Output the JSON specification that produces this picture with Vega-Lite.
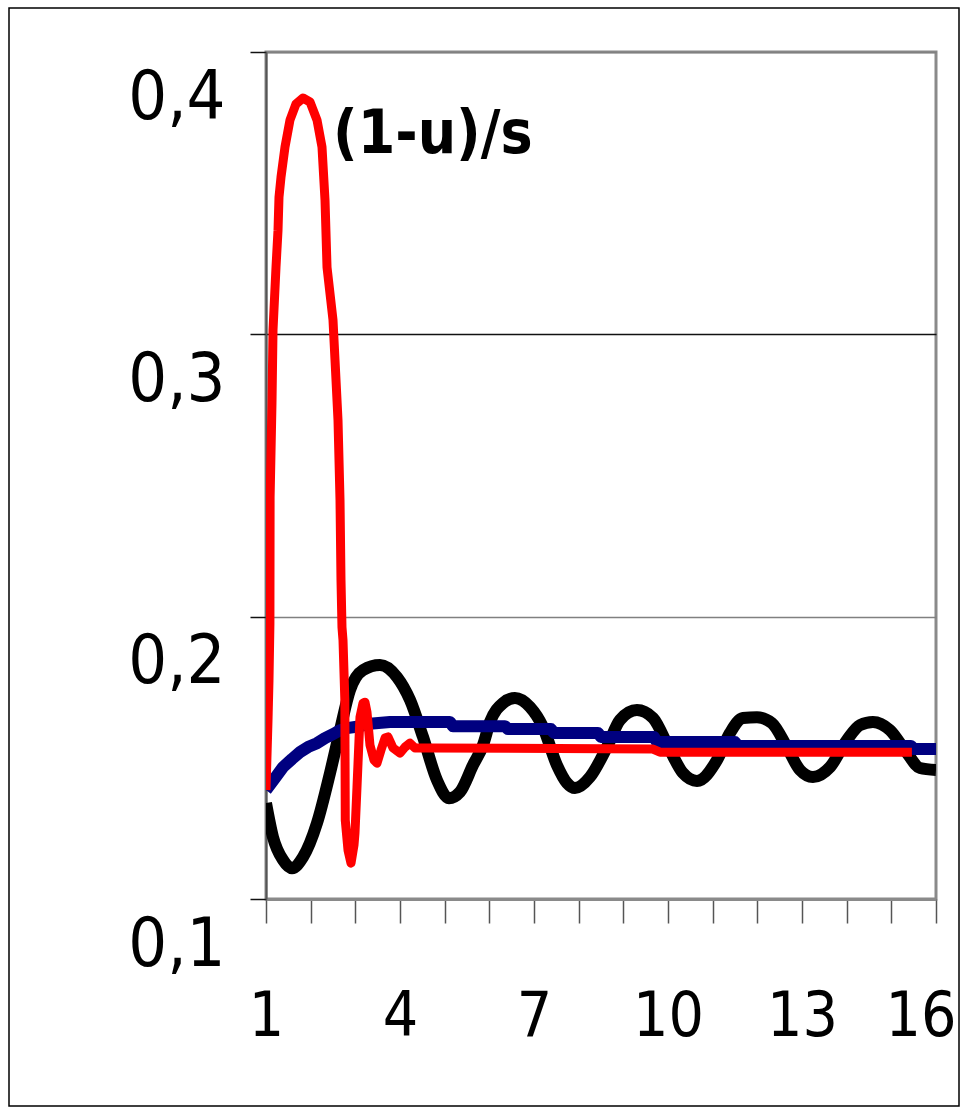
{
  "$schema": "https://vega.github.io/schema/vega-lite/v6.json",
  "width": 670,
  "height": 847,
  "autosize": {"type": "none"},
  "padding": {"left": 266, "top": 52, "right": 24, "bottom": 216},
  "background": "white",
  "config": {
    "view": {"stroke": "#8a8a8a", "strokeWidth": 3},
    "font": "DejaVu Sans Condensed, Liberation Sans, sans-serif"
  },
  "datasets": {
    "curves": [
      {"series": "black", "x": 1.000, "y": 0.1340},
      {"series": "black", "x": 1.157, "y": 0.1219},
      {"series": "black", "x": 1.381, "y": 0.1138},
      {"series": "black", "x": 1.582, "y": 0.1109},
      {"series": "black", "x": 1.828, "y": 0.1148},
      {"series": "black", "x": 2.142, "y": 0.1269},
      {"series": "black", "x": 2.433, "y": 0.1446},
      {"series": "black", "x": 2.657, "y": 0.1598},
      {"series": "black", "x": 2.880, "y": 0.1740},
      {"series": "black", "x": 3.171, "y": 0.1811},
      {"series": "black", "x": 3.552, "y": 0.1829},
      {"series": "black", "x": 3.933, "y": 0.1786},
      {"series": "black", "x": 4.224, "y": 0.1705},
      {"series": "black", "x": 4.515, "y": 0.1574},
      {"series": "black", "x": 4.828, "y": 0.1421},
      {"series": "black", "x": 5.097, "y": 0.1357},
      {"series": "black", "x": 5.343, "y": 0.1379},
      {"series": "black", "x": 5.634, "y": 0.1474},
      {"series": "black", "x": 5.858, "y": 0.1545},
      {"series": "black", "x": 6.015, "y": 0.1627},
      {"series": "black", "x": 6.306, "y": 0.1694},
      {"series": "black", "x": 6.574, "y": 0.1712},
      {"series": "black", "x": 6.910, "y": 0.1680},
      {"series": "black", "x": 7.201, "y": 0.1609},
      {"series": "black", "x": 7.514, "y": 0.1474},
      {"series": "black", "x": 7.738, "y": 0.1411},
      {"series": "black", "x": 7.917, "y": 0.1393},
      {"series": "black", "x": 8.253, "y": 0.1432},
      {"series": "black", "x": 8.634, "y": 0.1538},
      {"series": "black", "x": 8.925, "y": 0.1634},
      {"series": "black", "x": 9.305, "y": 0.1669},
      {"series": "black", "x": 9.664, "y": 0.1641},
      {"series": "black", "x": 10.044, "y": 0.1527},
      {"series": "black", "x": 10.335, "y": 0.1446},
      {"series": "black", "x": 10.649, "y": 0.1418},
      {"series": "black", "x": 11.096, "y": 0.1492},
      {"series": "black", "x": 11.387, "y": 0.1588},
      {"series": "black", "x": 11.678, "y": 0.1641},
      {"series": "black", "x": 11.992, "y": 0.1644},
      {"series": "black", "x": 12.327, "y": 0.1623},
      {"series": "black", "x": 12.663, "y": 0.1538},
      {"series": "black", "x": 12.954, "y": 0.1457},
      {"series": "black", "x": 13.245, "y": 0.1432},
      {"series": "black", "x": 13.626, "y": 0.1467},
      {"series": "black", "x": 14.006, "y": 0.1563},
      {"series": "black", "x": 14.298, "y": 0.1616},
      {"series": "black", "x": 14.589, "y": 0.1627},
      {"series": "black", "x": 14.969, "y": 0.1598},
      {"series": "black", "x": 15.350, "y": 0.1517},
      {"series": "black", "x": 15.641, "y": 0.1464},
      {"series": "black", "x": 16.000, "y": 0.1457},

      {"series": "blue", "x": 1.000, "y": 0.1386},
      {"series": "blue", "x": 1.201, "y": 0.1428},
      {"series": "blue", "x": 1.381, "y": 0.1467},
      {"series": "blue", "x": 1.582, "y": 0.1496},
      {"series": "blue", "x": 1.761, "y": 0.1520},
      {"series": "blue", "x": 1.940, "y": 0.1538},
      {"series": "blue", "x": 2.142, "y": 0.1552},
      {"series": "blue", "x": 2.321, "y": 0.1570},
      {"series": "blue", "x": 2.500, "y": 0.1584},
      {"series": "blue", "x": 2.657, "y": 0.1598},
      {"series": "blue", "x": 2.813, "y": 0.1605},
      {"series": "blue", "x": 3.104, "y": 0.1612},
      {"series": "blue", "x": 3.261, "y": 0.1620},
      {"series": "blue", "x": 3.776, "y": 0.1627},
      {"series": "blue", "x": 5.119, "y": 0.1627},
      {"series": "blue", "x": 5.186, "y": 0.1612},
      {"series": "blue", "x": 6.350, "y": 0.1612},
      {"series": "blue", "x": 6.417, "y": 0.1602},
      {"series": "blue", "x": 7.380, "y": 0.1602},
      {"series": "blue", "x": 7.447, "y": 0.1588},
      {"series": "blue", "x": 8.432, "y": 0.1588},
      {"series": "blue", "x": 8.499, "y": 0.1574},
      {"series": "blue", "x": 9.686, "y": 0.1574},
      {"series": "blue", "x": 9.753, "y": 0.1556},
      {"series": "blue", "x": 11.499, "y": 0.1556},
      {"series": "blue", "x": 11.566, "y": 0.1542},
      {"series": "blue", "x": 15.439, "y": 0.1542},
      {"series": "blue", "x": 15.506, "y": 0.1531},
      {"series": "blue", "x": 16.000, "y": 0.1531},

      {"series": "red", "x": 1.000, "y": 0.1386},
      {"series": "red", "x": 1.045, "y": 0.1634},
      {"series": "red", "x": 1.067, "y": 0.1775},
      {"series": "red", "x": 1.088, "y": 0.1977},
      {"series": "red", "x": 1.092, "y": 0.2424},
      {"series": "red", "x": 1.134, "y": 0.2757},
      {"series": "red", "x": 1.157, "y": 0.3015},
      {"series": "red", "x": 1.224, "y": 0.3238},
      {"series": "red", "x": 1.269, "y": 0.3369},
      {"series": "red", "x": 1.291, "y": 0.3486},
      {"series": "red", "x": 1.336, "y": 0.3557},
      {"series": "red", "x": 1.425, "y": 0.3663},
      {"series": "red", "x": 1.537, "y": 0.3759},
      {"series": "red", "x": 1.672, "y": 0.3816},
      {"series": "red", "x": 1.829, "y": 0.3837},
      {"series": "red", "x": 1.985, "y": 0.3823},
      {"series": "red", "x": 2.142, "y": 0.3759},
      {"series": "red", "x": 2.254, "y": 0.3663},
      {"series": "red", "x": 2.321, "y": 0.3476},
      {"series": "red", "x": 2.366, "y": 0.3238},
      {"series": "red", "x": 2.500, "y": 0.3051},
      {"series": "red", "x": 2.545, "y": 0.2909},
      {"series": "red", "x": 2.612, "y": 0.2696},
      {"series": "red", "x": 2.657, "y": 0.2413},
      {"series": "red", "x": 2.679, "y": 0.2130},
      {"series": "red", "x": 2.701, "y": 0.1963},
      {"series": "red", "x": 2.724, "y": 0.1917},
      {"series": "red", "x": 2.765, "y": 0.1705},
      {"series": "red", "x": 2.775, "y": 0.1279},
      {"series": "red", "x": 2.836, "y": 0.1173},
      {"series": "red", "x": 2.903, "y": 0.1127},
      {"series": "red", "x": 2.970, "y": 0.1191},
      {"series": "red", "x": 2.992, "y": 0.1233},
      {"series": "red", "x": 3.037, "y": 0.1396},
      {"series": "red", "x": 3.104, "y": 0.1644},
      {"series": "red", "x": 3.171, "y": 0.1694},
      {"series": "red", "x": 3.216, "y": 0.1697},
      {"series": "red", "x": 3.261, "y": 0.1662},
      {"series": "red", "x": 3.328, "y": 0.1545},
      {"series": "red", "x": 3.418, "y": 0.1492},
      {"series": "red", "x": 3.485, "y": 0.1481},
      {"series": "red", "x": 3.574, "y": 0.1527},
      {"series": "red", "x": 3.664, "y": 0.1570},
      {"series": "red", "x": 3.731, "y": 0.1574},
      {"series": "red", "x": 3.843, "y": 0.1535},
      {"series": "red", "x": 4.000, "y": 0.1517},
      {"series": "red", "x": 4.112, "y": 0.1538},
      {"series": "red", "x": 4.224, "y": 0.1552},
      {"series": "red", "x": 4.336, "y": 0.1535},
      {"series": "red", "x": 4.671, "y": 0.1535},
      {"series": "red", "x": 9.664, "y": 0.1531},
      {"series": "red", "x": 9.820, "y": 0.1520},
      {"series": "red", "x": 15.460, "y": 0.1520}
    ],
    "annotation": [
      {"x": 2.5, "y": 0.3642, "label": "(1-u)/s"}
    ],
    "frame": [
      {"name": "frame"}
    ]
  },
  "encoding": {
    "x": {
      "field": "x",
      "type": "quantitative",
      "scale": {"domain": [1, 16], "nice": false, "zero": false},
      "axis": {
        "title": null,
        "values": [1, 2, 3, 4, 5, 6, 7, 8, 9, 10, 11, 12, 13, 14, 15, 16],
        "labelExpr": "datum.value % 3 == 1 ? format(datum.value, 'd') : ''",
        "grid": false,
        "domainColor": "#8a8a8a",
        "domainWidth": 3,
        "tickColor": "#555555",
        "tickWidth": 1.5,
        "tickSize": 24,
        "labelFont": "DejaVu Sans Condensed, Liberation Sans, sans-serif",
        "labelFontSize": 62,
        "labelColor": "black",
        "labelAlign": {"condition": {"test": "datum.value == 16", "value": "right"}, "value": "center"},
        "labelOffset": {"condition": {"test": "datum.value == 16", "value": 20}, "value": 0},
        "labelBaseline": "alphabetic",
        "labelPadding": 112,
        "labelFlush": false,
        "labelOverlap": false,
        "labelBound": false
      }
    },
    "y": {
      "field": "y",
      "type": "quantitative",
      "scale": {"domain": [0.1, 0.4], "nice": false, "zero": false},
      "axis": {
        "title": null,
        "values": [0.1, 0.2, 0.3, 0.4],
        "labelExpr": "replace(format(datum.value, '.1f'), '.', ',')",
        "grid": true,
        "gridColor": {"condition": {"test": "datum.value == 0.3", "value": "#111111"}, "value": "#808080"},
        "gridWidth": 1.5,
        "domainColor": "#555555",
        "domainWidth": 2,
        "tickColor": "#111111",
        "tickWidth": 1.5,
        "tickSize": 16,
        "labelFont": "DejaVu Sans Condensed, Liberation Sans, sans-serif",
        "labelFontSize": 68,
        "labelColor": "black",
        "labelAlign": "right",
        "labelBaseline": "alphabetic",
        "labelOffset": 66,
        "labelPadding": 25,
        "labelFlush": false,
        "labelOverlap": false,
        "labelBound": false
      }
    }
  },
  "layer": [
    {
      "data": {"name": "curves"},
      "transform": [{"filter": "datum.series == 'black'"}],
      "mark": {"type": "line", "color": "#000000", "strokeWidth": 12, "interpolate": "monotone", "strokeJoin": "round", "strokeCap": "butt", "clip": true}
    },
    {
      "data": {"name": "curves"},
      "transform": [{"filter": "datum.series == 'blue'"}],
      "mark": {"type": "line", "color": "#000080", "strokeWidth": 12, "interpolate": "linear", "strokeJoin": "round", "strokeCap": "butt", "clip": true}
    },
    {
      "data": {"name": "curves"},
      "transform": [{"filter": "datum.series == 'red'"}],
      "mark": {"type": "line", "color": "#FF0000", "strokeWidth": 9, "interpolate": "linear", "strokeJoin": "round", "strokeCap": "butt", "clip": true}
    },
    {
      "data": {"name": "annotation"},
      "mark": {"type": "text", "align": "left", "baseline": "alphabetic", "font": "DejaVu Sans Condensed, Liberation Sans, sans-serif", "fontWeight": "bold", "fontSize": 60, "color": "black"},
      "encoding": {"text": {"field": "label"}}
    },
    {
      "data": {"name": "frame"},
      "mark": {"type": "rect", "fill": null, "fillOpacity": 0, "stroke": "black", "strokeWidth": 1.5, "clip": false},
      "encoding": {
        "x": {"value": -257},
        "x2": {"value": 693},
        "y": {"value": -44},
        "y2": {"value": 1054}
      }
    }
  ]
}
